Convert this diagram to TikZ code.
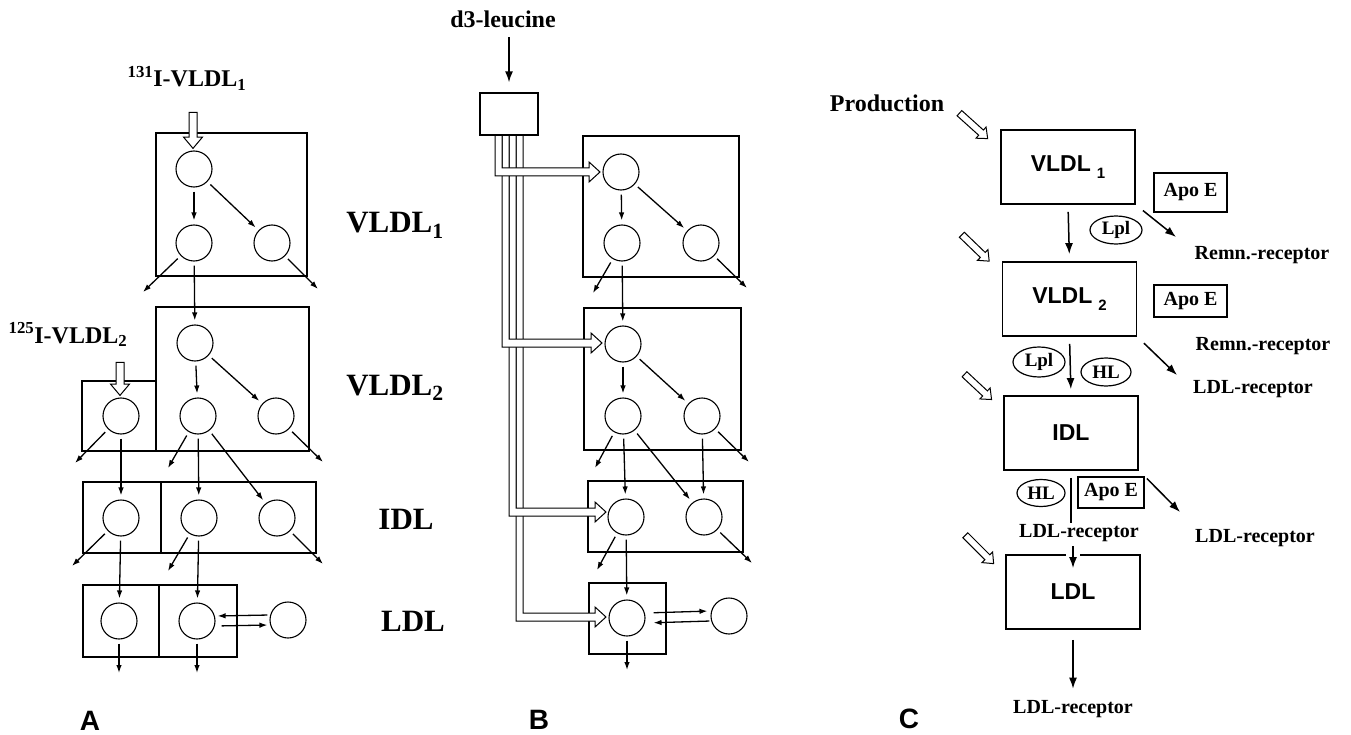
\documentclass[tikz,border=0pt]{standalone}
\usepackage{fontspec}
\setmainfont{Liberation Serif}
\setsansfont{Liberation Sans}
\usetikzlibrary{arrows.meta,shapes.arrows,shapes.geometric}

\begin{document}
\begin{tikzpicture}[x=1pt,y=-1pt,>={Latex[length=8pt,width=5.5pt]},
    pool/.style={draw, circle, minimum size=36pt, inner sep=0pt, line width=1.1pt},
    comp/.style={line width=2.2pt},
    flow/.style={->, line width=1.3pt, shorten <=4pt, shorten >=4pt},
    leak/.style={flow, shorten >=0pt},
    bigflow/.style={-{Latex[length=11pt,width=8pt]}, line width=1.5pt},
    tube/.style={draw, fill=white, line width=1pt},
    tracer/.style={draw, fill=white, single arrow, line width=1pt, inner xsep=0pt,
        inner ysep=3.5pt, single arrow head extend=5.5pt, single arrow tip angle=80},
    prodin/.style={tracer, inner ysep=3pt, single arrow head extend=4pt},
    lbl/.style={font=\fontsize{20}{22}\selectfont\bfseries, inner sep=1pt},
    tag/.style={font=\fontsize{24}{26}\selectfont\bfseries, inner sep=1pt},
    lipo/.style={font=\fontsize{31}{33}\selectfont\bfseries, inner sep=1pt},
    panel/.style={font=\fontsize{28}{30}\selectfont\sffamily\bfseries, inner sep=0pt},
    stage/.style={draw, line width=1.8pt, minimum width=134pt, minimum height=74pt,
        font=\fontsize{23}{25}\selectfont\sffamily\bfseries},
    apo/.style={draw, line width=1.4pt, inner sep=0pt, minimum width=73pt, minimum height=36pt,
        font=\fontsize{20}{22}\selectfont\bfseries},
    enz/.style={draw, ellipse, line width=1.2pt, inner sep=0pt, minimum width=52pt,
        minimum height=28pt, font=\fontsize{19}{21}\selectfont\bfseries}]
    \useasboundingbox (0,0) rectangle (1351,735);

    % ================= A: iodinated VLDL tracers =================
    % Compartment boxes
    \draw[comp] (156,133) rectangle (307,276);
    \draw[comp] (156,307) rectangle (309,451);
    \draw[comp] (156,381) -- (82,381) -- (82,451) -- (156,451);
    \draw[comp] (83,482) rectangle (316,553);
    \draw[comp] (161,482) -- (161,553);
    \draw[comp] (83,585) rectangle (237,657);
    \draw[comp] (159,585) -- (159,657);

    % Pools
    \node[pool] (a11) at (194,169) {};
    \node[pool] (a12) at (194,243) {};
    \node[pool] (a13) at (272,243) {};
    \node[pool] (a20) at (121,416) {};
    \node[pool] (a21) at (195,343) {};
    \node[pool] (a22) at (198,416) {};
    \node[pool] (a23) at (276,416) {};
    \node[pool] (a31) at (121,518) {};
    \node[pool] (a32) at (199,518) {};
    \node[pool] (a33) at (277,518) {};
    \node[pool] (a41) at (119,621) {};
    \node[pool] (a42) at (197,621) {};
    \node[pool] (a4x) at (288,620) {};

    % Tracer injections
    \node[tracer, minimum height=36pt, rotate=-90] (inj1) at (193,128) {};
    \node[tracer, minimum height=33pt, rotate=-90] (inj2) at (120,376.5) {};

    % Labels
    \node[tag, anchor=base] (t131) at (187,87) {\textsuperscript{131}I-VLDL\textsubscript{1}};
    \node[tag, anchor=base] (t125) at (68,343) {\textsuperscript{125}I-VLDL\textsubscript{2}};
    \node[lipo, anchor=base] (nv1) at (395,233) {VLDL\textsubscript{1}};
    \node[lipo, anchor=base] (nv2) at (395,395) {VLDL\textsubscript{2}};
    \node[lipo, anchor=base] (ni) at (406,529) {IDL};
    \node[lipo, anchor=base] (nl) at (413,631) {LDL};
    \node[panel, anchor=base] (pa) at (90,730) {A};

    % Free ends of the loss arrows
    \coordinate (a12o) at (143,292);
    \coordinate (a13o) at (318,289);
    \coordinate (a20o) at (75,463);
    \coordinate (a22o) at (168,468);
    \coordinate (a23o) at (323,462);
    \coordinate (a31o) at (72,566);
    \coordinate (a32o) at (168,571);
    \coordinate (a33o) at (323,564);
    \coordinate (a41o) at (119,673);
    \coordinate (a42o) at (197,673);

    % Transfers
    \draw[flow] (a11) -- (a12);
    \draw[flow] (a11) -- (a13);
    \draw[flow] (a12) -- (a21);
    \draw[flow] (a21) -- (a22);
    \draw[flow] (a21) -- (a23);
    \draw[flow] (a20) -- (a31);
    \draw[flow] (a22) -- (a32);
    \draw[flow] (a22) -- (a33);
    \draw[flow] (a31) -- (a41);
    \draw[flow] (a32) -- (a42);
    \draw[flow, shorten <=2pt, shorten >=2pt] ([yshift=5pt]a4x.west) -- ([yshift=5pt]a42.east);
    \draw[flow, shorten <=6pt, shorten >=2pt] ([yshift=-5pt]a42.east) -- ([yshift=-5pt]a4x.west);

    % Losses
    \draw[leak] (a12) -- (a12o);
    \draw[leak] (a13) -- (a13o);
    \draw[leak] (a20) -- (a20o);
    \draw[leak] (a22) -- (a22o);
    \draw[leak] (a23) -- (a23o);
    \draw[leak] (a31) -- (a31o);
    \draw[leak] (a32) -- (a32o);
    \draw[leak] (a33) -- (a33o);
    \draw[leak] (a41) -- (a41o);
    \draw[leak] (a42) -- (a42o);

    % ================= B: d3-leucine =================
    \draw[comp] (583,136) rectangle (739,277);
    \draw[comp] (584,308) rectangle (741,450);
    \draw[comp] (588,481) rectangle (743,552);
    \draw[comp] (589,583) rectangle (666,654);

    % Precursor pool feeding every class
    \filldraw[tube] (516,135) -- (516,621) -- (595,621) -- (595,627) -- (606,617) -- (595,607) -- (595,613) -- (523,613) -- (523,135);
    \filldraw[tube] (509,135) -- (509,516) -- (595,516) -- (595,522) -- (606,512) -- (595,502) -- (595,508) -- (516,508) -- (516,135);
    \filldraw[tube] (502,135) -- (502,347) -- (591,347) -- (591,353) -- (602,343) -- (591,333) -- (591,339) -- (509,339) -- (509,135);
    \filldraw[tube] (495,135) -- (495,176) -- (589,176) -- (589,182) -- (600,172) -- (589,162) -- (589,168) -- (502,168) -- (502,135);
    \node[draw, line width=1.3pt, minimum width=58pt, minimum height=42pt] (src) at (509,114) {};
    \node[tag, anchor=base] (leu) at (503,28) {d3-leucine};
    \draw[bigflow, shorten <=8pt, shorten >=10pt] (leu.south -| src.north) -- (src.north);

    % Pools
    \node[pool] (b11) at (621,172) {};
    \node[pool] (b12) at (622,243) {};
    \node[pool] (b13) at (701,243) {};
    \node[pool] (b21) at (623,344) {};
    \node[pool] (b22) at (623,416) {};
    \node[pool] (b23) at (702,416) {};
    \node[pool] (b31) at (626,517) {};
    \node[pool] (b32) at (704,517) {};
    \node[pool] (b41) at (627,618) {};
    \node[pool] (b4x) at (729,616) {};
    \node[panel, anchor=base] (pb) at (539,729) {B};

    \coordinate (b12o) at (593,293);
    \coordinate (b13o) at (747,288);
    \coordinate (b22o) at (595,468);
    \coordinate (b23o) at (749,462);
    \coordinate (b31o) at (597,570);
    \coordinate (b32o) at (752,563);
    \coordinate (b41o) at (627,670);

    % Transfers
    \draw[flow] (b11) -- (b12);
    \draw[flow] (b11) -- (b13);
    \draw[flow] (b12) -- (b21);
    \draw[flow] (b21) -- (b22);
    \draw[flow] (b21) -- (b23);
    \draw[flow] (b22) -- (b31);
    \draw[flow] (b22) -- (b32);
    \draw[flow] (b23) -- (b32);
    \draw[flow] (b31) -- (b41);
    \draw[flow, shorten <=8pt, shorten >=3pt] ([yshift=5pt]b41.east) -- ([yshift=5pt]b4x.west);
    \draw[flow, shorten <=1pt, shorten >=8pt] ([yshift=-5pt]b4x.west) -- ([yshift=-5pt]b41.east);

    % Losses
    \draw[leak] (b12) -- (b12o);
    \draw[leak] (b13) -- (b13o);
    \draw[leak] (b22) -- (b22o);
    \draw[leak] (b23) -- (b23o);
    \draw[leak] (b31) -- (b31o);
    \draw[leak] (b32) -- (b32o);
    \draw[leak] (b41) -- (b41o);

    % ================= C: delipidation cascade =================
    \node[stage] (cv1) at (1068,167) {VLDL\hspace{6pt}\raisebox{-7pt}{\fontsize{15}{15}\selectfont 1}};
    \node[stage] (cv2) at (1069.5,299) {VLDL\hspace{6pt}\raisebox{-7pt}{\fontsize{15}{15}\selectfont 2}};
    \node[stage] (ci) at (1071,433) {IDL};
    \node[stage] (cl) at (1073,592) {LDL};

    % Apo E and lipases
    \node[apo, minimum height=39pt] (ae1) at (1190.5,192.5) {Apo E};
    \node[apo, minimum height=32pt, line width=2.4pt] (ae2) at (1190.5,301) {Apo E};
    \node[apo, minimum width=66pt, minimum height=31pt] (ae3) at (1111,492.5) {Apo E};
    \node[enz] (lpl1) at (1116,230) {Lpl};
    \node[enz, minimum height=30pt] (lpl2) at (1039,362) {Lpl};
    \node[enz, minimum width=50pt] (hl1) at (1106,372) {HL};
    \node[enz, minimum width=48pt, minimum height=27pt] (hl2) at (1041,493) {HL};

    % Labels
    \node[tag, anchor=base] (prod) at (887,112) {Production};
    \node[lbl, anchor=base] (rr1) at (1262,259) {Remn.-receptor};
    \node[lbl, anchor=base] (rr2) at (1263,350) {Remn.-receptor};
    \node[lbl, anchor=base] (lr1) at (1253,393) {LDL-receptor};
    \node[lbl, anchor=base] (lr2) at (1255,542) {LDL-receptor};
    \node[lbl, anchor=base] (lrm) at (1079,537) {LDL-receptor};
    \node[lbl, anchor=base] (lrb) at (1073,713) {LDL-receptor};
    \node[panel, anchor=base] (pc) at (909,728) {C};

    % Production inputs
    \node[prodin, minimum height=38pt, rotate=-42] (pr1) at (972,124.5) {};
    \node[prodin, minimum height=38pt, rotate=-44] (pr2) at (974,246.5) {};
    \node[prodin, minimum height=37pt, rotate=-43] (pr3) at (976.5,385.5) {};
    \node[prodin, minimum height=40pt, rotate=-45] (pr4) at (978,548) {};

    % Free ends toward the receptors
    \coordinate (d1o) at (1176,237);
    \coordinate (d2o) at (1177,375);
    \coordinate (d3o) at (1180,512);

    % Conversions
    \draw[bigflow, shorten <=7pt, shorten >=7pt] (cv1.south) -- (cv2.north);
    \draw[bigflow, shorten <=7pt, shorten >=6pt] (cv2.south) -- (ci.north);
    \draw[line width=1.5pt, shorten <=7pt] (ci.south) -- (ci.south |- lrm.north);
    \fill[white] (1066,551) rectangle (1080,557);
    \draw[bigflow, shorten <=4pt] (lrm.south -| cl.north) -- ([yshift=-14pt]cl.north);
    \draw[bigflow, shorten <=10pt, shorten >=10pt] (cl.south) -- (lrb.north);

    % Uptake
    \draw[bigflow, shorten <=9pt] (cv1.south east) -- (d1o);
    \draw[bigflow, shorten <=9pt] (cv2.south east) -- (d2o);
    \draw[bigflow, shorten <=3pt] (ae3.north east) -- (d3o);
\end{tikzpicture}
\end{document}
